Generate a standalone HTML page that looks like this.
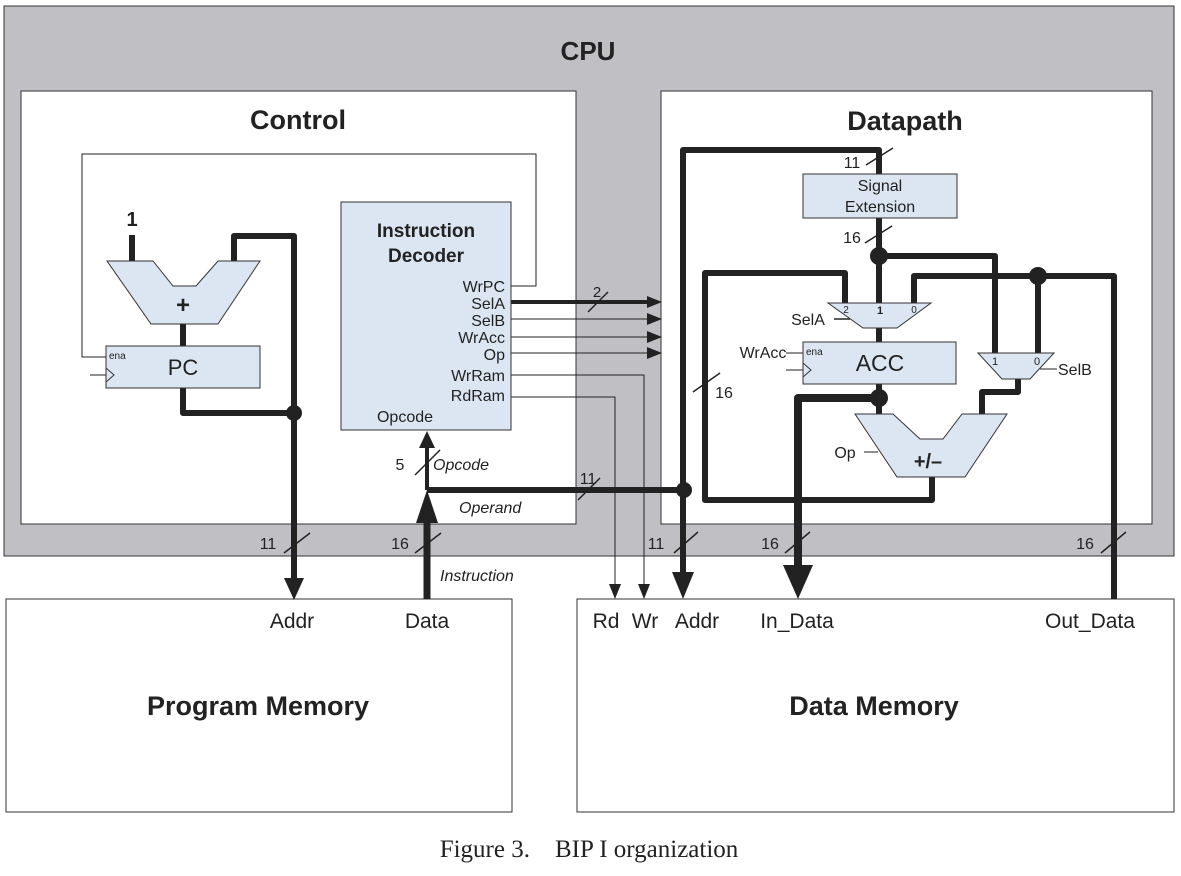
<!DOCTYPE html>
<html><head><meta charset="utf-8"><style>
html,body{margin:0;padding:0;background:#fff;}
svg{display:block;font-family:"Liberation Sans",Arial,sans-serif;}
.b{font-weight:bold}
</style></head><body>
<svg width="1181" height="876" viewBox="0 0 1181 876" xmlns="http://www.w3.org/2000/svg">
<!-- CPU -->
<rect x="4" y="6" width="1170" height="550" fill="#c0c0c4" stroke="#333" stroke-width="1"/>
<rect x="21" y="91" width="555" height="433" fill="#fff" stroke="#333" stroke-width="1"/>
<rect x="661" y="91" width="491" height="433" fill="#fff" stroke="#333" stroke-width="1"/>
<rect x="6" y="599" width="506" height="213" fill="#fff" stroke="#333" stroke-width="1"/>
<rect x="577" y="599" width="597" height="213" fill="#fff" stroke="#333" stroke-width="1"/>
<text x="588" y="60" font-size="26" class="b" text-anchor="middle" fill="#222">CPU</text>
<text x="298" y="129" font-size="27" class="b" text-anchor="middle" fill="#222">Control</text>
<text x="905" y="130" font-size="27" class="b" text-anchor="middle" fill="#222">Datapath</text>
<text x="258" y="715" font-size="27" class="b" text-anchor="middle" fill="#222">Program Memory</text>
<text x="874" y="715" font-size="27" class="b" text-anchor="middle" fill="#222">Data Memory</text>
<text x="589" y="857" font-size="25" text-anchor="middle" fill="#222" font-family="Liberation Serif,serif">Figure 3.&#160;&#160;&#160; BIP I organization</text>

<g fill="none" stroke="#222" stroke-linejoin="round">
<polyline points="106,357 82,357 82,154 536,154 536,286 511,286" stroke-width="1"/>
<line x1="90" y1="375" x2="106" y2="375" stroke-width="1"/>
<line x1="132" y1="235" x2="132" y2="262" stroke-width="6"/>
<polyline points="234,262 234,236 294,236 294,580" stroke-width="6"/>
<line x1="183" y1="324" x2="183" y2="346" stroke-width="6"/>
<polyline points="183,388 183,413 294,413" stroke-width="6"/>
<line x1="511" y1="302" x2="648" y2="302" stroke-width="4"/>
<line x1="511" y1="319" x2="648" y2="319" stroke-width="1"/>
<line x1="511" y1="337" x2="648" y2="337" stroke-width="1"/>
<line x1="511" y1="353" x2="648" y2="353" stroke-width="1"/>
<polyline points="511,375 644,375 644,585" stroke-width="1"/>
<polyline points="511,397 615,397 615,585" stroke-width="1"/>
<line x1="427" y1="599" x2="427" y2="515" stroke-width="7"/>
<line x1="427" y1="490" x2="427" y2="445" stroke-width="4"/>
<line x1="427" y1="490" x2="684" y2="490" stroke-width="6"/>
<polyline points="683,580 683,150 879,150 879,174" stroke-width="6"/>
<line x1="879" y1="218" x2="879" y2="303" stroke-width="6"/>
<polyline points="879,256 995,256 995,353" stroke-width="6"/>
<polyline points="845,303 845,273 705,273 705,500 932,500 932,477" stroke-width="6"/>
<polyline points="914,303 914,276 1114,276 1114,599" stroke-width="6"/>
<line x1="1038" y1="276" x2="1038" y2="353" stroke-width="6"/>
<line x1="879" y1="328" x2="879" y2="342" stroke-width="6"/>
<line x1="879" y1="384" x2="879" y2="414" stroke-width="6"/>
<polyline points="879,398 798,398 798,570" stroke-width="8"/>
<polyline points="1018,379 1018,392 982,392 982,414" stroke-width="6"/>
<line x1="834" y1="319" x2="850" y2="319" stroke-width="1.5"/>
<line x1="786" y1="353" x2="803" y2="353" stroke-width="1"/>
<line x1="786" y1="370" x2="803" y2="370" stroke-width="1"/>
<line x1="1040" y1="369" x2="1057" y2="369" stroke-width="1"/>
<line x1="864" y1="452" x2="878" y2="452" stroke-width="1"/>
<g stroke-width="1.5">
<line x1="588" y1="312" x2="608" y2="292"/>
<line x1="415" y1="475" x2="440" y2="450"/>
<line x1="578" y1="500" x2="600" y2="478"/>
<line x1="284" y1="553" x2="310" y2="533"/>
<line x1="415" y1="553" x2="441" y2="533"/>
<line x1="674" y1="553" x2="698" y2="532"/>
<line x1="785" y1="553" x2="810" y2="532"/>
<line x1="1101" y1="553" x2="1126" y2="532"/>
<line x1="866" y1="165" x2="893" y2="148"/>
<line x1="865" y1="243" x2="892" y2="226"/>
<line x1="693" y1="392" x2="720" y2="373"/>
</g>
</g>
<g fill="#222">
<path d="M284,578 L304,578 L294,600z"/>
<path d="M647,296 L662,302 L647,308z"/>
<path d="M647,313 L662,319 L647,325z"/>
<path d="M647,331 L662,337 L647,343z"/>
<path d="M647,347 L662,353 L647,359z"/>
<path d="M638,584 L650,584 L644,599z"/>
<path d="M609,584 L621,584 L615,599z"/>
<path d="M416,523 L438,523 L427,490z"/>
<path d="M419,448 L435,448 L427,431z"/>
<path d="M672,572 L694,572 L683,599z"/>
<path d="M783,565 L813,565 L798,599z"/>
<circle cx="294" cy="413" r="8"/>
<circle cx="684" cy="490" r="8"/>
<circle cx="879" cy="256" r="9"/>
<circle cx="1038" cy="276" r="9"/>
<circle cx="879" cy="398" r="9"/>
</g>
<g fill="#dce6f2" stroke="#333" stroke-width="1">
<rect x="341" y="202" width="170" height="228"/>
<rect x="106" y="346" width="154" height="42"/>
<path d="M107,261 L153,261 L173,286 L196,286 L218,261 L260,261 L218,324 L151,324z"/>
<rect x="803" y="174" width="154" height="44"/>
<rect x="803" y="342" width="153" height="42"/>
<path d="M828,303 L931,303 L897,328 L863,328z"/>
<path d="M978,353 L1054,353 L1030,379 L1002,379z"/>
<path d="M855,414 L893,414 L920,439 L943,439 L962,414 L1007,414 L965,477 L897,477z"/>
</g>
<g fill="none" stroke="#333" stroke-width="1">
<polyline points="106,368 114,375 106,382"/>
<polyline points="803,363 811,370 803,377"/>
</g>
<g fill="#222">
<text x="426" y="237" font-size="19" class="b" text-anchor="middle">Instruction</text>
<text x="426" y="262" font-size="19" class="b" text-anchor="middle">Decoder</text>
<g font-size="16" text-anchor="end">
<text x="505" y="292">WrPC</text>
<text x="505" y="309">SelA</text>
<text x="505" y="326">SelB</text>
<text x="505" y="343">WrAcc</text>
<text x="505" y="360">Op</text>
<text x="505" y="381">WrRam</text>
<text x="505" y="401">RdRam</text>
</g>
<text x="405" y="422" font-size="16" text-anchor="middle">Opcode</text>
<text x="132" y="226" font-size="20" class="b" text-anchor="middle">1</text>
<text x="183" y="313" font-size="24" class="b" text-anchor="middle">+</text>
<text x="183" y="375" font-size="22" text-anchor="middle">PC</text>
<text x="109" y="359" font-size="10">ena</text>
<text x="597" y="297" font-size="15" text-anchor="middle">2</text>
<text x="400" y="470" font-size="16" text-anchor="middle">5</text>
<text x="433" y="470" font-size="16" font-style="italic">Opcode</text>
<text x="459" y="513" font-size="16" font-style="italic">Operand</text>
<text x="588" y="484" font-size="16" text-anchor="middle">11</text>
<text x="268" y="549" font-size="16" text-anchor="middle">11</text>
<text x="400" y="549" font-size="16" text-anchor="middle">16</text>
<text x="440" y="581" font-size="16" font-style="italic">Instruction</text>
<text x="656" y="549" font-size="16" text-anchor="middle">11</text>
<text x="770" y="549" font-size="16" text-anchor="middle">16</text>
<text x="1085" y="549" font-size="16" text-anchor="middle">16</text>
<text x="852" y="168" font-size="16" text-anchor="middle">11</text>
<text x="852" y="243" font-size="16" text-anchor="middle">16</text>
<text x="724" y="398" font-size="16" text-anchor="middle">16</text>
<text x="880" y="191" font-size="16" text-anchor="middle">Signal</text>
<text x="880" y="212" font-size="16" text-anchor="middle">Extension</text>
<text x="880" y="371" font-size="23" text-anchor="middle">ACC</text>
<text x="806" y="355" font-size="10">ena</text>
<text x="763" y="358" font-size="16" text-anchor="middle">WrAcc</text>
<text x="808" y="325" font-size="16" text-anchor="middle">SelA</text>
<text x="846" y="313" font-size="10" text-anchor="middle">2</text>
<text x="880" y="314" font-size="11" class="b" text-anchor="middle">1</text>
<text x="914" y="313" font-size="10" text-anchor="middle">0</text>
<text x="995" y="365" font-size="11" text-anchor="middle">1</text>
<text x="1037" y="365" font-size="11" text-anchor="middle">0</text>
<text x="1058" y="375" font-size="16">SelB</text>
<text x="845" y="458" font-size="16" text-anchor="middle">Op</text>
<text x="928" y="468" font-size="20" class="b" text-anchor="middle">+/–</text>
<g font-size="21" text-anchor="middle">
<text x="292" y="628">Addr</text>
<text x="427" y="628">Data</text>
<text x="606" y="628">Rd</text>
<text x="645" y="628">Wr</text>
<text x="697" y="628">Addr</text>
<text x="797" y="628">In_Data</text>
<text x="1090" y="628">Out_Data</text>
</g>
</g>
</svg>
</body></html>
